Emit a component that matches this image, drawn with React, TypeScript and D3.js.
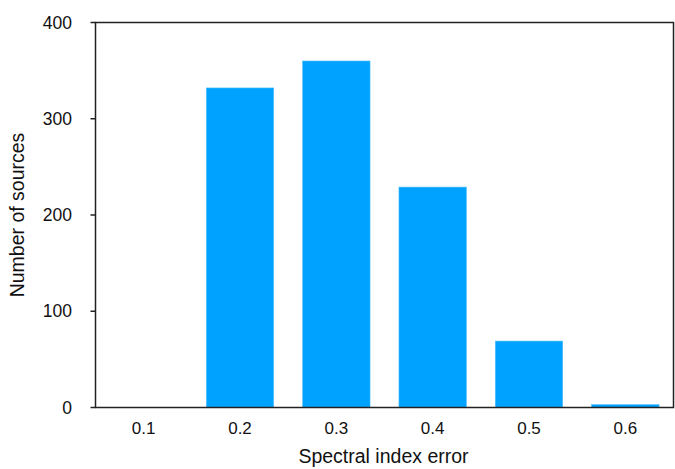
import React from "react";
import * as d3 from "d3";

const categories = ["0.1", "0.2", "0.3", "0.4", "0.5", "0.6"];
const counts = [0, 332, 360, 229, 69, 3];
const yTicks = [0, 100, 200, 300, 400];

export default function App() {
  const W = 675, H = 469;
  const left = 95.5, right = 673.5, top = 22.5, bottom = 407.5;
  const x = d3.scaleBand<string>().domain(categories).range([left, right]).paddingInner(0.3).paddingOuter(0.15);
  const y = d3.scaleLinear().domain([0, 400]).range([bottom, top]);
  const font = "'Liberation Sans', Arial, Helvetica, sans-serif";
  return (
    <svg width={W} height={H} style={{ position: "absolute", left: 0, top: 0 }} fontFamily={font}>
      <rect x={0} y={0} width={W} height={H} fill="#fff" />
      {categories.map((c, i) => (
        <rect key={c} x={x(c)} y={y(counts[i])} width={x.bandwidth()} height={bottom - y(counts[i])} fill="#00a2ff" stroke="#4fc0ff" strokeWidth={0.6} />
      ))}
      <rect x={left} y={top} width={right - left} height={bottom - top} fill="none" stroke="#222" strokeWidth={1.5} />
      {yTicks.map((t) => (
        <g key={t}>
          <line x1={left - 5} x2={left} y1={y(t)} y2={y(t)} stroke="#222" strokeWidth={1.5} />
          <text x={72} y={y(t)} dy="0.35em" textAnchor="end" fontSize={17.5} fill="#111">{t}</text>
        </g>
      ))}
      {categories.map((c) => (
        <text key={c} x={(x(c) as number) + x.bandwidth() / 2} y={428} dy="0.35em" textAnchor="middle" fontSize={17} fill="#111">{c}</text>
      ))}
      <text x={(left + right) / 2 - 1} y={456.5} dy="0.35em" textAnchor="middle" fontSize={19.5} fill="#111">Spectral index error</text>
      <text transform={`translate(17, ${(top + bottom) / 2}) rotate(-90)`} dy="0.35em" textAnchor="middle" fontSize={19.5} fill="#111">Number of sources</text>
    </svg>
  );
}
